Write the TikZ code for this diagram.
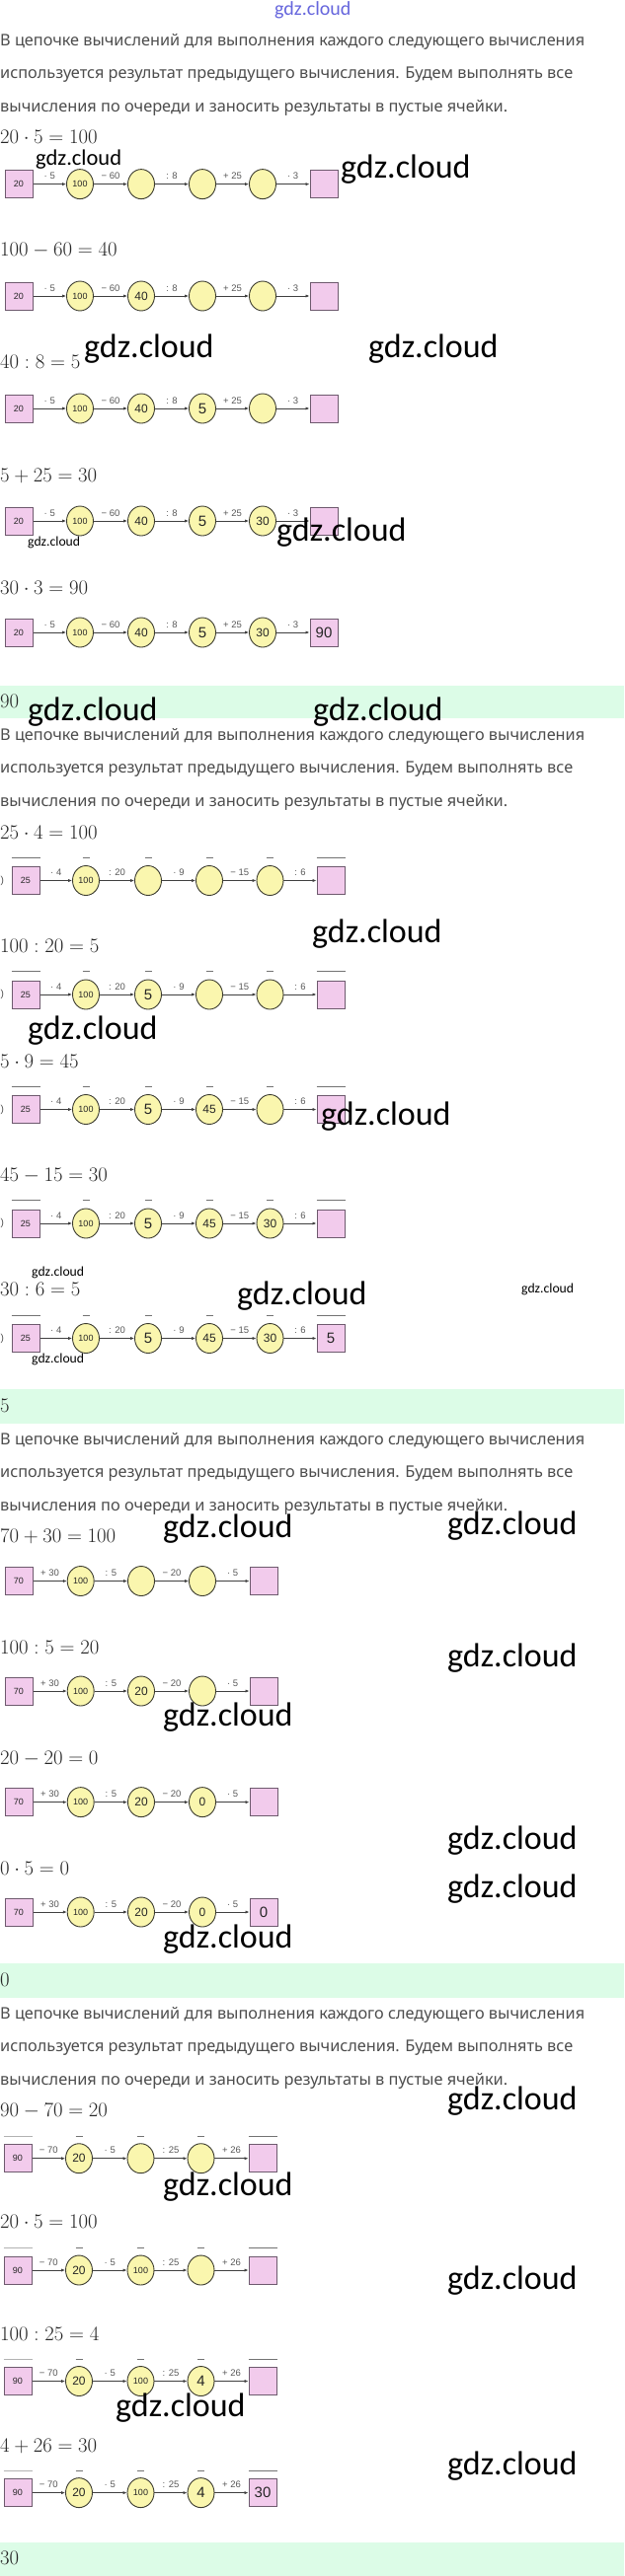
\documentclass[tikz,border=0pt]{standalone}
\usepackage{fontspec}
\usetikzlibrary{shapes.geometric,arrows.meta}
\newfontfamily\parafont{Noto Sans}
\newfontfamily\wmfont{Carlito}
\newfontfamily\labfont{Liberation Sans}
\newfontfamily\handfont{Liberation Sans}
\definecolor{pinkf}{HTML}{F2CBEC}
\definecolor{pinkd}{HTML}{6E5A6E}
\definecolor{yelf}{HTML}{FAF6AE}
\definecolor{yeld}{HTML}{3C3C30}
\definecolor{bandc}{HTML}{DCFCE7}
\definecolor{parac}{HTML}{4D4D4D}
\definecolor{hdrc}{HTML}{6666DD}
\newcommand\hA[1]{{\handfont\fontsize{9}{9}\selectfont #1}}
\newcommand\hB[1]{{\handfont\fontsize{12}{12}\selectfont #1}}
\newcommand\hC[1]{{\handfont\fontsize{15}{15}\selectfont #1}}
\newcommand\boxnum[1]{{\labfont\fontsize{9}{9}\selectfont #1}}
\tikzset{
  pinkbox/.style={draw=pinkd, fill=pinkf, line width=1pt, minimum width=28pt, minimum height=28pt, inner sep=0pt, text=black!85},
  yc/.style={ellipse, draw=yeld, fill=yelf, line width=0.9pt, minimum width=27pt, minimum height=30pt, inner sep=0pt, text=black!85},
  arr/.style={draw=black!75, line width=0.7pt, -{Latex[length=4pt,width=3.2pt]}},
  oplab/.style={font=\labfont\fontsize{9.5}{9.5}\selectfont, text=black!65, inner sep=0pt, yshift=8pt},
  ovl/.style={draw=black!55, line width=0.8pt},
  wm/.style={font=\wmfont\fontsize{34}{34}\selectfont, anchor=west, inner sep=0pt},
  wmm/.style={font=\wmfont\fontsize{22.5}{22.5}\selectfont, anchor=west, inner sep=0pt},
  wms/.style={font=\wmfont\fontsize{13.7}{13.7}\selectfont, anchor=west, inner sep=0pt},
  mathl/.style={anchor=base west, inner sep=0pt, font=\fontsize{20}{20}\selectfont, text=black!85},
  paral/.style={anchor=base west, inner sep=0pt, text=parac},
  bandr/.style={fill=bandc, draw=none},
}
% section 1 chain
\newcommand{\chA}[7]{%
  \node[pinkbox] (#1b0) at (19,#2) {\boxnum{20}};
  \node[yc] (#1c1) at (81,#2) {#3};
  \node[yc] (#1c2) at (143,#2) {#4};
  \node[yc] (#1c3) at (205,#2) {#5};
  \node[yc] (#1c4) at (266,#2) {#6};
  \node[pinkbox] (#1b5) at (328,#2) {#7};
  \draw[arr] (#1b0) -- node[oplab]{· 5} (#1c1);
  \draw[arr] (#1c1) -- node[oplab]{− 60} (#1c2);
  \draw[arr] (#1c2) -- node[oplab]{: 8} (#1c3);
  \draw[arr] (#1c3) -- node[oplab]{+ 25} (#1c4);
  \draw[arr] (#1c4) -- node[oplab]{· 3} (#1b5);
}
% section 2 chain
\newcommand{\chB}[7]{%
  \node[font=\labfont\fontsize{10}{10}\selectfont, anchor=west, inner sep=0pt, text=black!70] (#1pre) at (0.5,#2) {)};
  \node[pinkbox] (#1b0) at (26,#2) {\boxnum{25}};
  \node[yc] (#1c1) at (87,#2) {#3};
  \node[yc] (#1c2) at (150,#2) {#4};
  \node[yc] (#1c3) at (212,#2) {#5};
  \node[yc] (#1c4) at (273.5,#2) {#6};
  \node[pinkbox] (#1b5) at (335,#2) {#7};
  \draw[arr] (#1b0) -- node[oplab]{· 4} (#1c1);
  \draw[arr] (#1c1) -- node[oplab]{: 20} (#1c2);
  \draw[arr] (#1c2) -- node[oplab]{· 9} (#1c3);
  \draw[arr] (#1c3) -- node[oplab]{− 15} (#1c4);
  \draw[arr] (#1c4) -- node[oplab]{: 6} (#1b5);
  \draw[ovl] ([yshift=9pt]#1b0.north west) -- ([yshift=9pt]#1b0.north east);
  \draw[ovl] ([yshift=9pt]#1b5.north west) -- ([yshift=9pt]#1b5.north east);
  \foreach \k in {1,2,3,4}{\draw[ovl] ([xshift=-3.5pt,yshift=8pt]#1c\k.north) -- ([xshift=3.5pt,yshift=8pt]#1c\k.north);}
}
% section 3 chain
\newcommand{\chC}[6]{%
  \node[pinkbox] (#1b0) at (19,#2) {\boxnum{70}};
  \node[yc] (#1c1) at (81.7,#2) {#3};
  \node[yc] (#1c2) at (143,#2) {#4};
  \node[yc] (#1c3) at (205,#2) {#5};
  \node[pinkbox] (#1b4) at (267,#2) {#6};
  \draw[arr] (#1b0) -- node[oplab]{+ 30} (#1c1);
  \draw[arr] (#1c1) -- node[oplab]{: 5} (#1c2);
  \draw[arr] (#1c2) -- node[oplab]{− 20} (#1c3);
  \draw[arr] (#1c3) -- node[oplab]{· 5} (#1b4);
}
% section 4 chain
\newcommand{\chD}[6]{%
  \node[pinkbox] (#1b0) at (18,#2) {\boxnum{90}};
  \node[yc] (#1c1) at (80,#2) {#3};
  \node[yc] (#1c2) at (142.5,#2) {#4};
  \node[yc] (#1c3) at (203.5,#2) {#5};
  \node[pinkbox] (#1b4) at (266,#2) {#6};
  \draw[arr] (#1b0) -- node[oplab]{− 70} (#1c1);
  \draw[arr] (#1c1) -- node[oplab]{· 5} (#1c2);
  \draw[arr] (#1c2) -- node[oplab]{: 25} (#1c3);
  \draw[arr] (#1c3) -- node[oplab]{+ 26} (#1b4);
  \draw[ovl, draw=black!30] ([yshift=8pt]#1b0.north west) -- ([yshift=8pt]#1b0.north east);
  \draw[ovl] ([yshift=8pt]#1b4.north west) -- ([yshift=8pt]#1b4.north east);
  \foreach \k in {1,2,3}{\draw[ovl] ([xshift=-3.5pt,yshift=7pt]#1c\k.north) -- ([xshift=3.5pt,yshift=7pt]#1c\k.north);}
}
\newcommand{\paraA}{В цепочке вычислений для выполнения каждого следующего вычисления}
\newcommand{\paraB}{используется результат предыдущего вычисления. Будем выполнять все}
\newcommand{\paraC}{вычисления по очереди и заносить результаты в пустые ячейки.}
\newcommand{\parablock}[4]{%
  \node[paral] (#1l1) at (0,#2) {\resizebox{592pt}{!}{\parafont\fontsize{17}{17}\selectfont\paraA}};
  \node[paral] (#1l2) at (0,#3) {\resizebox{580pt}{!}{\parafont\fontsize{17}{17}\selectfont\paraB}};
  \node[paral] (#1l3) at (0,#4) {\resizebox{514pt}{!}{\parafont\fontsize{17}{17}\selectfont\paraC}};
}
\begin{document}
\begin{tikzpicture}[x=1pt,y=-1pt]
\useasboundingbox[fill=white] (0,0) rectangle (632,2611);
% answer bands
\fill[bandr] (0,694.6) rectangle (632,728);
\fill[bandr] (0,1408) rectangle (632,1443);
\fill[bandr] (0,1990) rectangle (632,2024.5);
\fill[bandr] (0,2576.5) rectangle (632,2611);
\node[mathl] (ans1) at (0,717.4) {$90$};
\node[mathl] (ans2) at (0,1431.4) {$5$};
\node[mathl] (ans3) at (0,2013.4) {$0$};
\node[mathl] (ans4) at (0,2599.4) {$30$};
% header
\node[font=\wmfont\fontsize{20}{20}\selectfont, text=hdrc, anchor=west, inner sep=0pt] (hdr) at (278,10) {gdz.cloud};
% ---------- section 1
\parablock{s1}{46}{79.5}{113}
\node[mathl] (m11) at (0,145.4) {$20\cdot 5=100$};
\chA{a1}{186.6}{\hA{100}}{}{}{}{}
\node[mathl] (m12) at (0,259.4) {$100-60=40$};
\chA{a2}{300}{\hA{100}}{\hB{40}}{}{}{}
\node[mathl] (m13) at (0,373.4) {$40:8=5$};
\chA{a3}{414}{\hA{100}}{\hB{40}}{\hC{5}}{}{}
\node[mathl] (m14) at (0,488.4) {$5+25=30$};
\chA{a4}{528}{\hA{100}}{\hB{40}}{\hC{5}}{\hB{30}}{}
\node[mathl] (m15) at (0,602.4) {$30\cdot 3=90$};
\chA{a5}{641}{\hA{100}}{\hB{40}}{\hC{5}}{\hB{30}}{\hC{90}}
% ---------- section 2
\parablock{s2}{750}{783.3}{817}
\node[mathl] (m21) at (0,850.1) {$25\cdot 4=100$};
\chB{b1}{892.5}{\hA{100}}{}{}{}{}
\node[mathl] (m22) at (0,965.4) {$100:20=5$};
\chB{b2}{1008}{\hA{100}}{\hC{5}}{}{}{}
\node[mathl] (m23) at (0,1082.1) {$5\cdot 9=45$};
\chB{b3}{1124.5}{\hA{100}}{\hC{5}}{\hB{45}}{}{}
\node[mathl] (m24) at (0,1197.4) {$45-15=30$};
\chB{b4}{1240}{\hA{100}}{\hC{5}}{\hB{45}}{\hB{30}}{}
\node[mathl] (m25) at (0,1313.4) {$30:6=5$};
\chB{b5}{1356.5}{\hA{100}}{\hC{5}}{\hB{45}}{\hB{30}}{\hC{5}}
% ---------- section 3
\parablock{s3}{1464.5}{1497.9}{1531.2}
\node[mathl] (m31) at (0,1563.4) {$70+30=100$};
\chC{c1}{1602.5}{\hA{100}}{}{}{}
\node[mathl] (m32) at (0,1676.8) {$100:5=20$};
\chC{c2}{1714}{\hA{100}}{\hB{20}}{}{}
\node[mathl] (m33) at (0,1788) {$20-20=0$};
\chC{c3}{1826.6}{\hA{100}}{\hB{20}}{\hB{0}}{}
\node[mathl] (m34) at (0,1900.4) {$0\cdot 5=0$};
\chC{c4}{1938}{\hA{100}}{\hB{20}}{\hB{0}}{\hC{0}}
% ---------- section 4
\parablock{s4}{2046.5}{2079.9}{2113.2}
\node[mathl] (m41) at (0,2145.4) {$90-70=20$};
\chD{d1}{2187.7}{\hB{20}}{}{}{}
\node[mathl] (m42) at (0,2258.4) {$20\cdot 5=100$};
\chD{d2}{2301}{\hB{20}}{\hA{100}}{}{}
\node[mathl] (m43) at (0,2372) {$100:25=4$};
\chD{d3}{2413.5}{\hB{20}}{\hA{100}}{\hC{4}}{}
\node[mathl] (m44) at (0,2485.4) {$4+26=30$};
\chD{d4}{2526.6}{\hB{20}}{\hA{100}}{\hC{4}}{\hC{30}}
% ---------- watermarks
\node[wmm] (w0) at (36,161.6) {gdz.cloud};
\node[wm] (w1) at (345,172) {gdz.cloud};
\node[wm] (w2) at (85,354) {gdz.cloud};
\node[wm] (w3) at (373,354) {gdz.cloud};
\node[wm] (w4) at (280,540) {gdz.cloud};
\node[wms] (w5) at (28,550) {gdz.cloud};
\node[wm] (w6) at (28,722) {gdz.cloud};
\node[wm] (w7) at (317,722) {gdz.cloud};
\node[wm] (w8) at (316,947) {gdz.cloud};
\node[wm] (w9) at (28,1044.5) {gdz.cloud};
\node[wm] (w10) at (325,1132) {gdz.cloud};
\node[wms] (w11) at (32,1290) {gdz.cloud};
\node[wm] (w12) at (240,1314) {gdz.cloud};
\node[wms] (w13) at (528,1307) {gdz.cloud};
\node[wms] (w14) at (32,1378) {gdz.cloud};
\node[wm] (w15) at (165,1549.6) {gdz.cloud};
\node[wm] (w16) at (453,1547) {gdz.cloud};
\node[wm] (w17) at (453,1681) {gdz.cloud};
\node[wm] (w18) at (165,1741) {gdz.cloud};
\node[wm] (w19) at (453,1866) {gdz.cloud};
\node[wm] (w20) at (453,1915) {gdz.cloud};
\node[wm] (w21) at (165,1966) {gdz.cloud};
\node[wm] (w22) at (453,2130) {gdz.cloud};
\node[wm] (w23) at (165,2217) {gdz.cloud};
\node[wm] (w24) at (453,2312) {gdz.cloud};
\node[wm] (w25) at (117,2441) {gdz.cloud};
\node[wm] (w26) at (453,2500) {gdz.cloud};
\end{tikzpicture}
\end{document}
